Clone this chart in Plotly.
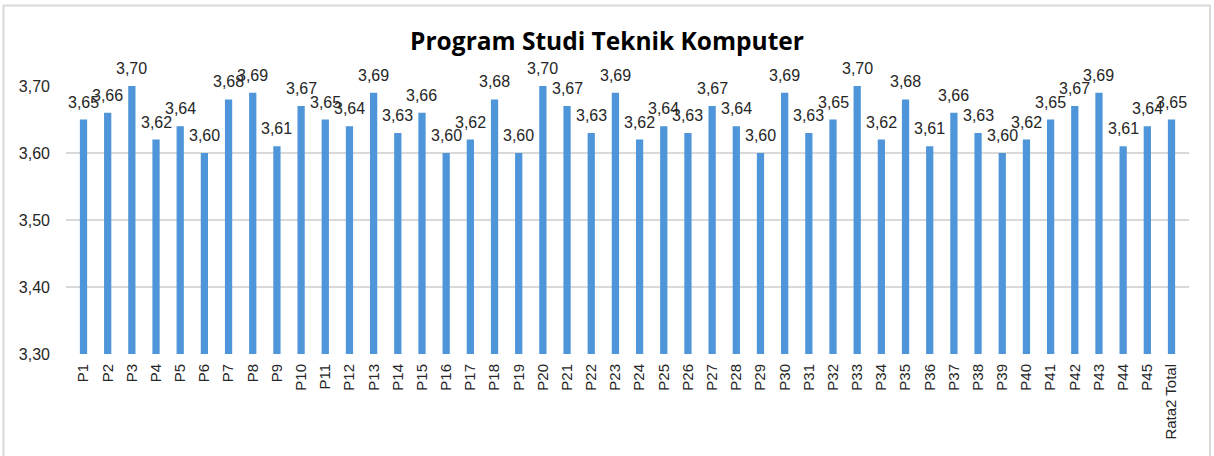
import plotly.graph_objects as go

categories = [f"P{i}" for i in range(1, 46)] + ["Rata2 Total"]
values = [3.65, 3.66, 3.70, 3.62, 3.64, 3.60, 3.68, 3.69, 3.61, 3.67,
          3.65, 3.64, 3.69, 3.63, 3.66, 3.60, 3.62, 3.68, 3.60, 3.70,
          3.67, 3.63, 3.69, 3.62, 3.64, 3.63, 3.67, 3.64, 3.60, 3.69,
          3.63, 3.65, 3.70, 3.62, 3.68, 3.61, 3.66, 3.63, 3.60, 3.62,
          3.65, 3.67, 3.69, 3.61, 3.64, 3.65]
y_ticks = [3.30, 3.40, 3.50, 3.60, 3.70]
title_text = "Program Studi Teknik Komputer"

W, H = 1214, 456
L, R, T, B = 66, 25, 86, 102
pw, ph = W - L - R, H - T - B

fig = go.Figure()
fig.add_trace(go.Bar(
    x=categories, y=values,
    marker=dict(color="#4E95D9", line=dict(width=0)),
))

annotations = []
for c, v in zip(categories, values):
    annotations.append(dict(
        x=c, y=v, xref="x", yref="y", text=f"{v:.2f}".replace(".", ","),
        showarrow=False, yanchor="bottom", yshift=7,
        font=dict(family="Liberation Sans, Arial", size=16, color="#262626"),
    ))

# outer chart border
x0 = (3.5 - L) / pw
x1 = (1210 - L) / pw
y1 = (H - B - 5.5) / ph
y0 = (H - B - 470) / ph

fig.update_layout(
    width=W, height=H,
    margin=dict(l=L, r=R, t=T, b=B, autoexpand=False),
    paper_bgcolor="white", plot_bgcolor="white",
    separators=",.",
    showlegend=False,
    bargap=0.70,
    title=dict(text=f"<b>{title_text}</b>", x=0.5, xanchor="center",
               y=1 - 41 / H, yanchor="middle", yref="container",
               font=dict(family="Open Sans", size=24.5, color="black")),
    xaxis=dict(
        type="category", tickangle=-90, showgrid=False, showline=False,
        ticks="", ticklabelstandoff=6,
        tickfont=dict(family="Liberation Sans, Arial", size=15, color="#262626"),
    ),
    yaxis=dict(
        range=[3.30, 3.70], tickvals=y_ticks,
        ticktext=[f"{t:.2f}".replace(".", ",") for t in y_ticks],
        showgrid=True, gridcolor="#d9d9d9", gridwidth=1.5,
        zeroline=False, showline=False, ticks="", ticklabelstandoff=15,
        tickfont=dict(family="Liberation Sans, Arial", size=16, color="#262626"),
    ),
    annotations=annotations,
    shapes=[dict(type="rect", xref="paper", yref="paper", x0=x0, x1=x1, y0=y0, y1=y1,
                 line=dict(color="#d9d9d9", width=2), layer="below")],
)
fig.update_traces(cliponaxis=False)

fig.write_html("out.html", config={"displayModeBar": False},
               post_script="document.body.style.margin='0';")
